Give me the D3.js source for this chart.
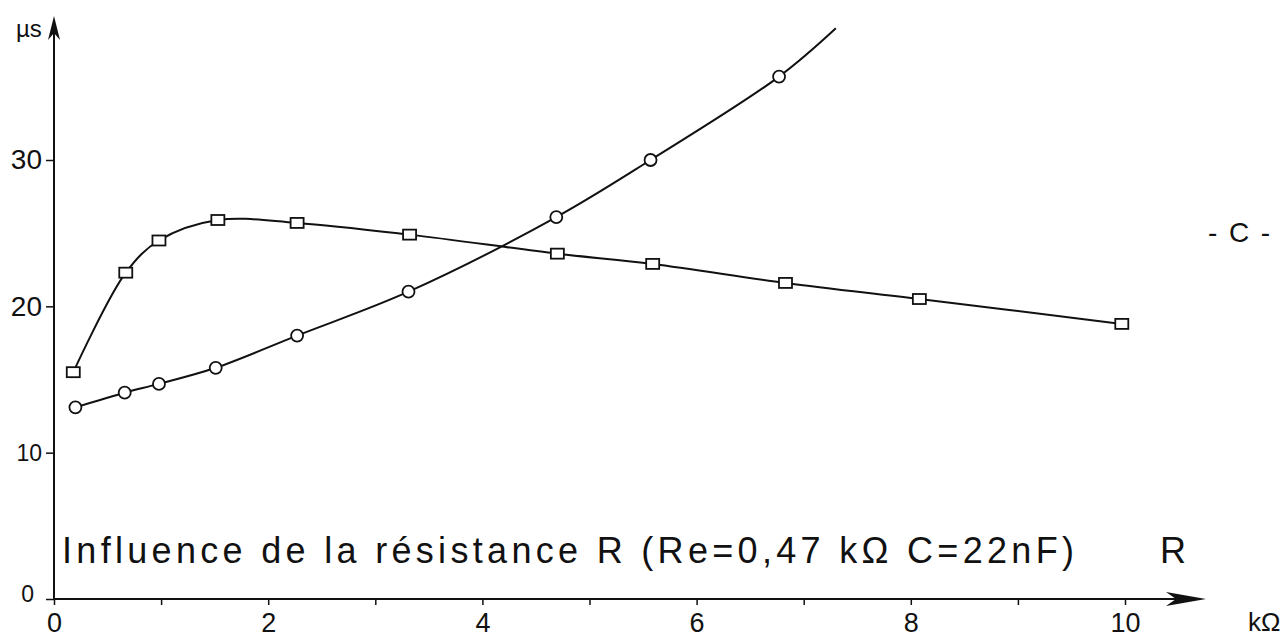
<!DOCTYPE html>
<html lang="fr">
<head>
<meta charset="UTF-8">
<title>Influence de la résistance R</title>
<script src="https://cdn.jsdelivr.net/npm/d3@7"></script>
<style>
  body { margin: 0; background: #fff; }
  text { font-family: "Liberation Sans", "DejaVu Sans", sans-serif; fill: #111; }
</style>
</head>
<body>
<div id="chart"></div>
<script>
// R in kOhm, times in microseconds
var squareR = [0.18, 0.67, 0.98, 1.53, 2.27, 3.32, 4.70, 5.59, 6.83, 8.08, 9.97];
var squareT = [15.5, 22.3, 24.5, 25.9, 25.7, 24.9, 23.6, 22.9, 21.6, 20.5, 18.8];
var circleR = [0.20, 0.66, 0.98, 1.51, 2.27, 3.31, 4.69, 5.57, 6.77];
var circleT = [13.1, 14.1, 14.7, 15.8, 18.0, 21.0, 26.1, 30.0, 35.7];
// the drawn curve for circles goes on a bit past the last point
var circleTailR = [7.3];
var circleTailT = [39.0];
var xTicks = [0, 1, 2, 3, 4, 5, 6, 7, 8, 9, 10];
var yTicks = [0, 10, 20, 30];

var width = 1287, height = 643;

var svg = d3.select("#chart").append("svg")
    .attr("width", width)
    .attr("height", height);

var x = d3.scaleLinear().domain([0, 10]).range([54, 1125]);
var y = d3.scaleLinear().domain([0, 30]).range([599, 160]);

// axes
var xAxis = d3.axisBottom(x)
    .tickValues(xTicks)
    .tickSize(6)
    .tickPadding(8)
    .tickFormat(function(d) { return d % 2 ? "" : d; });

var gx = svg.append("g")
    .attr("transform", "translate(0," + y(0) + ")")
    .call(xAxis);
gx.select(".domain").remove();
gx.selectAll(".tick line").attr("stroke", "#111").attr("stroke-width", 1.5);
gx.selectAll(".tick text")
    .attr("font-size", 27)
    .style("font-family", "Liberation Sans, sans-serif")
    .attr("fill", "#111");

var yAxis = d3.axisLeft(y)
    .tickValues(yTicks)
    .tickSize(8)
    .tickPadding(4);

var gy = svg.append("g")
    .attr("transform", "translate(" + x(0) + ",0)")
    .call(yAxis);
gy.select(".domain").remove();
gy.selectAll(".tick line").attr("stroke", "#111").attr("stroke-width", 1.5);
gy.selectAll(".tick text")
    .attr("font-size", function(d) { return d >= 20 ? 28 : 23; })
    .style("font-family", "Liberation Sans, sans-serif")
    .attr("fill", "#111");
gy.selectAll(".tick").filter(function(d) { return d === 0; }).select("text")
    .attr("x", -20).attr("dy", "0.1em");

// axis lines with arrows
svg.append("line")
    .attr("x1", x(0)).attr("y1", y(0))
    .attr("x2", 1200).attr("y2", y(0))
    .attr("stroke", "#111").attr("stroke-width", 2);
svg.append("path")
    .attr("d", "M1166," + (y(0) - 7) + " L1206," + y(0) + " L1166," + (y(0) + 7) + " L1176," + y(0) + " Z")
    .attr("fill", "#111");

svg.append("line")
    .attr("x1", x(0)).attr("y1", y(0))
    .attr("x2", x(0)).attr("y2", 24)
    .attr("stroke", "#111").attr("stroke-width", 2);
svg.append("path")
    .attr("d", "M" + (x(0) - 6) + ",40 L" + x(0) + ",16 L" + (x(0) + 6) + ",40 L" + x(0) + ",33 Z")
    .attr("fill", "#111");

svg.append("text")
    .attr("x", 16).attr("y", 37)
    .attr("font-size", 24)
    .text("µs");
svg.append("text")
    .attr("x", 1248).attr("y", 631)
    .attr("font-size", 26)
    .text("kΩ");

// curves
var line = d3.line()
    .x(function(d) { return x(d[0]); })
    .y(function(d) { return y(d[1]); })
    .curve(d3.curveCatmullRom.alpha(0.5));

var squares = d3.zip(squareR, squareT);
var circles = d3.zip(circleR, circleT);
var circleCurve = circles.concat(d3.zip(circleTailR, circleTailT));

svg.append("path")
    .datum(squares)
    .attr("d", line)
    .attr("fill", "none").attr("stroke", "#111").attr("stroke-width", 2);

svg.append("path")
    .datum(circleCurve)
    .attr("d", line)
    .attr("fill", "none").attr("stroke", "#111").attr("stroke-width", 2);

svg.selectAll(".sq")
    .data(squares)
    .enter().append("rect")
    .attr("class", "sq")
    .attr("x", function(d) { return x(d[0]) - 6.5; })
    .attr("y", function(d) { return y(d[1]) - 5; })
    .attr("width", 13).attr("height", 10)
    .attr("fill", "#fff").attr("stroke", "#111").attr("stroke-width", 1.8);

svg.selectAll(".ci")
    .data(circles)
    .enter().append("circle")
    .attr("class", "ci")
    .attr("cx", function(d) { return x(d[0]); })
    .attr("cy", function(d) { return y(d[1]); })
    .attr("r", 6)
    .attr("fill", "#fff").attr("stroke", "#111").attr("stroke-width", 1.8);

// caption
svg.append("text")
    .attr("x", 62).attr("y", 563)
    .attr("font-size", 36)
    .attr("textLength", 1012)
    .attr("lengthAdjust", "spacing")
    .text("Influence de la résistance R (Re=0,47 kΩ C=22nF)");
svg.append("text")
    .attr("x", 1160).attr("y", 563)
    .attr("font-size", 36)
    .text("R");

svg.append("text")
    .attr("x", 1208).attr("y", 242)
    .attr("font-size", 28)
    .attr("textLength", 62)
    .attr("lengthAdjust", "spacing")
    .text("- C -");
</script>
</body>
</html>
